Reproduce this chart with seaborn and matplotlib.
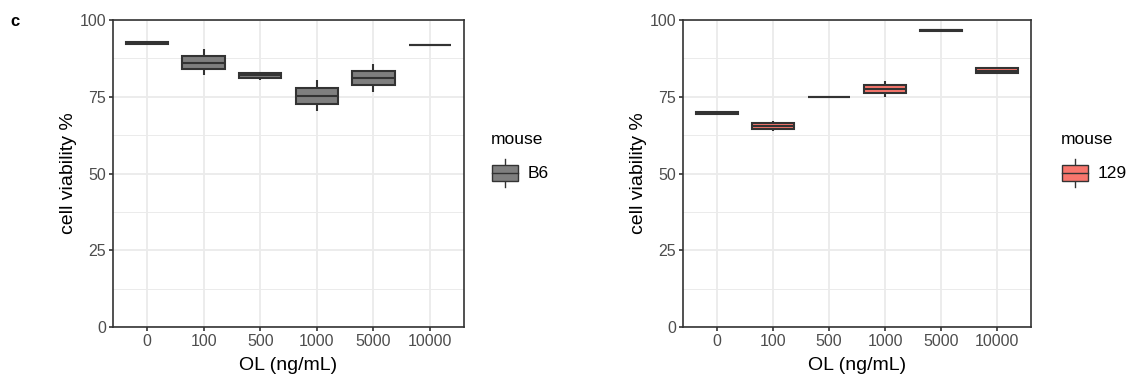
import numpy as np
import pandas as pd
import matplotlib
matplotlib.use("Agg")
import matplotlib.pyplot as plt
import seaborn as sns
from matplotlib.legend_handler import HandlerBase
from matplotlib.patches import Rectangle
from matplotlib.lines import Line2D

# ---- data ----
doses = ["0", "100", "500", "1000", "5000", "10000"]
b6_values = {
    "0":     [92.0, 92.2, 92.5, 92.8, 93.0],
    "100":   [82.1, 84.0, 86.1, 88.4, 90.5],
    "500":   [80.6, 81.1, 82.0, 82.6, 83.0],
    "1000":  [70.2, 72.8, 75.3, 77.9, 80.4],
    "5000":  [76.6, 78.9, 81.1, 83.4, 85.6],
    "10000": [91.9, 92.0, 92.0, 92.0, 92.1],
}
m129_values = {
    "0":     [69.3, 69.5, 69.7, 69.9, 70.1],
    "100":   [64.0, 64.5, 65.4, 66.3, 67.0],
    "500":   [74.9, 74.9, 74.9, 74.9, 74.9],
    "1000":  [75.0, 76.1, 77.5, 78.9, 80.0],
    "5000":  [96.3, 96.4, 96.6, 96.8, 96.9],
    "10000": [82.4, 82.7, 83.5, 84.3, 84.7],
}
mouse_labels = ["B6", "129"]
mouse_colors = ["#7F7F7F", "#F8766D"]
x_label = "OL (ng/mL)"
y_label = "cell viability %"
y_ticks = [0, 25, 50, 75, 100]

def make_df(values, mouse):
    rows = []
    for d in doses:
        for v in values[d]:
            rows.append({"dose": d, "viability": v, "mouse": mouse})
    return pd.DataFrame(rows)

df_b6 = make_df(b6_values, mouse_labels[0])
df_129 = make_df(m129_values, mouse_labels[1])

plt.rcParams["font.family"] = ["Liberation Sans", "DejaVu Sans"]

EDGE = "#333333"

class BoxHandler(HandlerBase):
    def __init__(self, color):
        super().__init__()
        self.color = color
    def create_artists(self, legend, orig_handle, xdescent, ydescent,
                       width, height, fontsize, trans):
        bw = width * 0.95
        x0 = -xdescent + (width - bw) / 2
        bh = height * 0.8
        y0 = -ydescent + (height - bh) / 2
        rect = Rectangle((x0, y0), bw, bh, facecolor=self.color,
                         edgecolor=EDGE, linewidth=1.0, transform=trans)
        xm = x0 + bw / 2
        med = Line2D([x0, x0 + bw], [y0 + bh / 2, y0 + bh / 2], color=EDGE,
                     linewidth=1.0, transform=trans)
        w1 = Line2D([xm, xm], [y0 + bh, y0 + bh + height * 0.3], color=EDGE,
                    linewidth=1.0, transform=trans)
        w2 = Line2D([xm, xm], [y0, y0 - height * 0.3], color=EDGE,
                    linewidth=1.0, transform=trans)
        return [w1, w2, rect, med]

fig = plt.figure(figsize=(11.27, 3.92), dpi=100)
ax1 = fig.add_axes([113 / 1127, 65 / 392, 351 / 1127, 307 / 392])
ax2 = fig.add_axes([683 / 1127, 65 / 392, 348 / 1127, 307 / 392])

for ax, df, color, label, lx in [
    (ax1, df_b6, mouse_colors[0], mouse_labels[0], 484 / 1127),
    (ax2, df_129, mouse_colors[1], mouse_labels[1], 1054 / 1127),
]:
    sns.boxplot(data=df, x="dose", y="viability", order=doses, ax=ax,
                color=color, width=0.75, linewidth=1.5, linecolor=EDGE,
                whis=1.5, fliersize=0, saturation=1.0, showcaps=False)
    ax.set_ylim(0, 100)
    ax.set_xlim(-0.6, 5.6)
    ax.set_yticks(y_ticks)
    ax.set_yticks([12.5, 37.5, 62.5, 87.5], minor=True)
    ax.set_axisbelow(True)
    ax.grid(True, which="major", color="#EBEBEB", linewidth=1.3)
    ax.grid(True, which="minor", axis="y", color="#EBEBEB", linewidth=0.7)
    ax.tick_params(axis="y", which="minor", length=0)
    ax.tick_params(axis="both", which="major", length=3, width=1.2,
                   color="#333333", labelsize=11.5, labelcolor="#4D4D4D", pad=2)
    for s in ax.spines.values():
        s.set_color("#333333")
        s.set_linewidth(1.2)
    ax.set_xlabel(x_label, fontsize=14, color="black", labelpad=6)
    ax.set_ylabel(y_label, fontsize=14, color="black", labelpad=2)
    h = Rectangle((0, 0), 1, 1)
    leg = fig.legend([h], [label], title="mouse",
                     handler_map={h: BoxHandler(color)},
                     loc="upper left", bbox_to_anchor=(lx, 0.68),
                     frameon=False, fontsize=12.5, title_fontsize=12.5,
                     handlelength=1.6, handleheight=1.4, handletextpad=0.5,
                     borderaxespad=0, labelspacing=0.3)
    leg._legend_box.align = "left"
    leg._legend_box.sep = 11

fig.text(10 / 1127, 1 - 22 / 392, "c", fontsize=12, fontweight="bold",
         va="center", ha="left")

fig.savefig("out.png", dpi=100, facecolor="white")
